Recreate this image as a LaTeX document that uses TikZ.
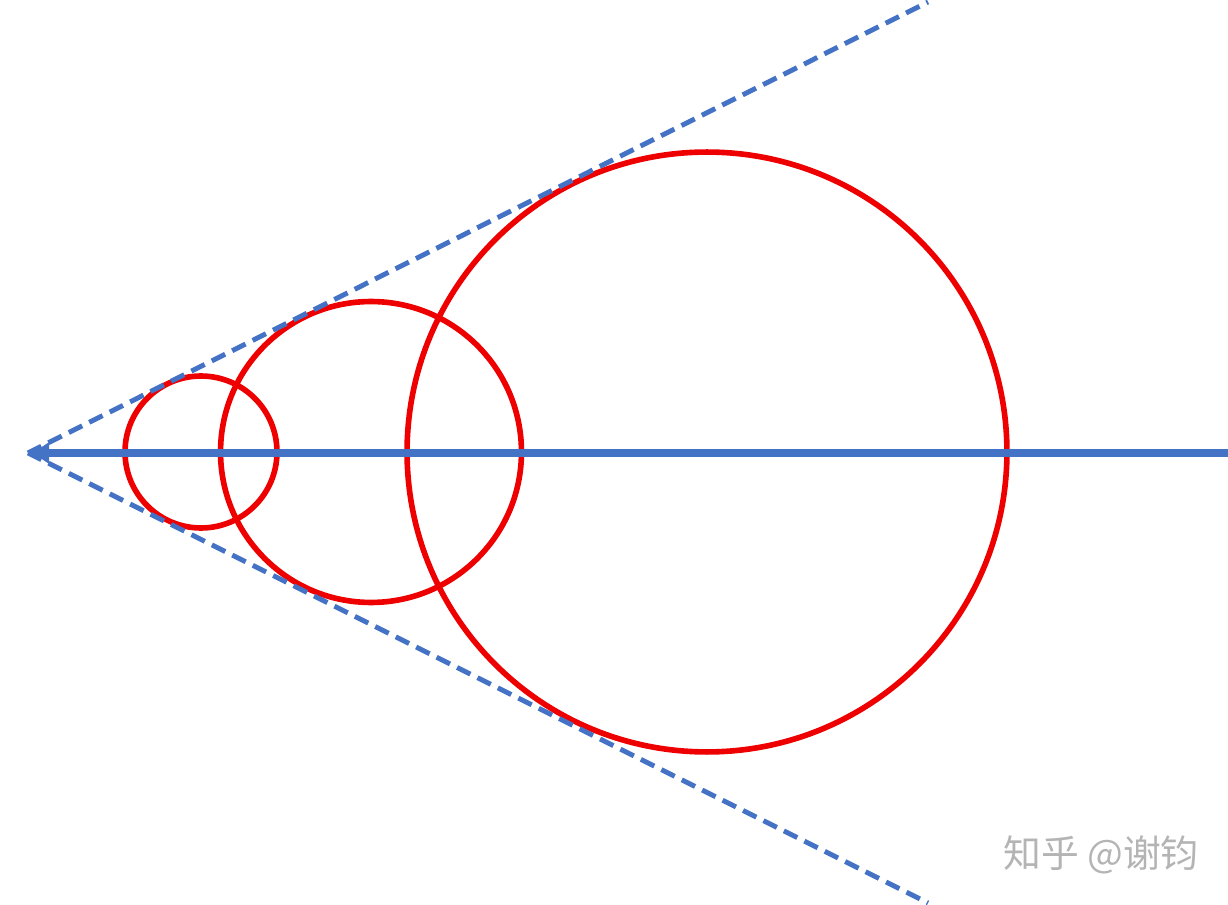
\documentclass[tikz,border=0pt]{standalone}
\usepackage{fontspec}
\usetikzlibrary{arrows.meta, positioning}
\newfontfamily\cjkfont{Noto Sans CJK SC}
\definecolor{axisblue}{HTML}{4472C4}
\definecolor{ringred}{HTML}{EE0000}
\definecolor{markgray}{HTML}{B4B4B4}

\begin{document}
\begin{tikzpicture}[
    x=0.02cm, y=-0.02cm,
    ring/.style={circle, draw=ringred, line width=3.2pt, inner sep=0pt},
    axisline/.style={-{Latex[length=12pt, width=13pt]}, line width=4.5pt, axisblue},
    rayline/.style={dashed, dash pattern=on 8.5pt off 4.5pt, line width=2.8pt, axisblue},
    wmtext/.style={font=\cjkfont\fontsize{21.5}{21.5}\selectfont, text=markgray}
  ]
    \useasboundingbox (0,0) rectangle (1228,905);

    % Apex and ray ends
    \coordinate (apex) at (28,453);
    \coordinate (far) at (1228,453);
    \coordinate (raytop) at (928,2);
    \coordinate (raybot) at (928,903);

    % Circles
    \node[ring, minimum size=3.04cm] (c1) at (201,452) {};
    \node[ring, minimum size=6.02cm] (c2) at (371,452) {};
    \node[ring, minimum size=12.0cm] (c3) at (707,452) {};

    \draw[rayline] (apex) -- (raytop);
    \draw[rayline] (apex) -- (raybot);
    \draw[axisline] (far) -- (apex);

    % Watermark
    \node[wmtext] (wm) at (1101,855) {知乎 @谢钧};
  \end{tikzpicture}
\end{document}
